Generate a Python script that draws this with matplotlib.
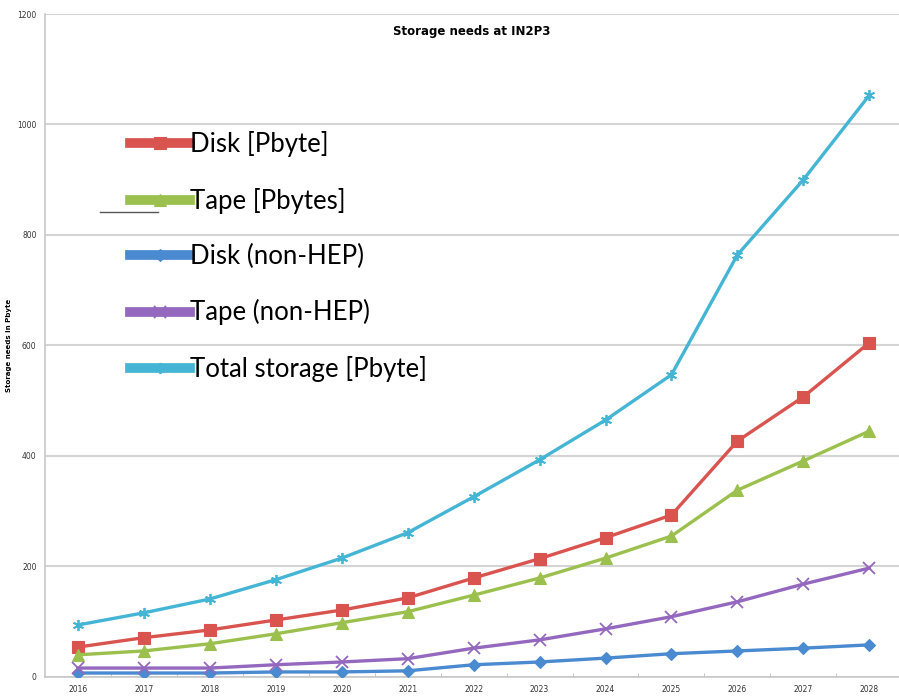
import matplotlib.pyplot as plt
from matplotlib.lines import Line2D
from matplotlib.patches import Rectangle

years = [2016, 2017, 2018, 2019, 2020, 2021, 2022, 2023, 2024, 2025, 2026, 2027, 2028]
disk = [54, 71, 85, 103, 121, 143, 179, 214, 252, 293, 427, 507, 605]
tape = [40, 47, 60, 78, 98, 118, 148, 179, 215, 255, 338, 391, 445]
disk_nonhep = [7, 7, 7, 9, 9, 11, 22, 27, 34, 42, 47, 52, 58]
tape_nonhep = [16, 16, 16, 22, 27, 33, 52, 67, 87, 109, 136, 168, 197]
total = [94, 116, 141, 176, 215, 261, 326, 393, 465, 547, 764, 900, 1053]

series = [
    ('Disk [Pbyte]', disk, '#D9534F', 's', 8),
    ('Tape [Pbytes]', tape, '#9BC04E', '^', 8),
    ('Disk (non-HEP)', disk_nonhep, '#4A8AD0', 'D', 6),
    ('Tape (non-HEP)', tape_nonhep, '#9468BE', 'x', 8),
    ('Total storage [Pbyte]', total, '#45B5D5', (6, 2, 0), 8),
]

fig = plt.figure(figsize=(8.99, 7.0), dpi=100)
ax = fig.add_axes([0.050, 0.033, 0.95, 0.947])

for label, vals, color, marker, ms in series:
    ax.plot(years, vals, color=color, linewidth=2.4, marker=marker, markersize=ms,
            markeredgewidth=1.3 if marker in ('x', (6, 2, 0)) else 0.8,
            markeredgecolor=color, label=label, zorder=3)

ax.set_xlim(2015.5, 2028.45)
ax.set_ylim(0, 1200)
ax.set_yticks(range(0, 1201, 200))
ax.set_xticks(years)
ax.set_xticks([y + 0.5 for y in years[:-1]], minor=True)
ax.tick_params(axis='both', which='major', labelsize=5.5, length=0, colors='#333333', pad=6)
ax.tick_params(axis='x', which='minor', length=3, direction='in', color='#bbbbbb')
ax.grid(axis='y', color='#d4d4d4', linewidth=1.5, zorder=0)
for s in ['top', 'right']:
    ax.spines[s].set_visible(False)
for s in ['left', 'bottom']:
    ax.spines[s].set_color('#c8c8c8')
    ax.spines[s].set_linewidth(1.2)

ax.set_ylabel('Storage needs in Pbyte', fontsize=5, fontweight='bold', labelpad=4)
ax.set_title('Storage needs at IN2P3', fontsize=8.5, fontweight='bold', y=0.955)

# white box behind the legend, hiding the grid lines
ax.add_patch(Rectangle((0.062, 0.43), 0.426, 0.425, transform=ax.transAxes,
                       facecolor='white', edgecolor='none', zorder=1))

leg = ax.legend(loc='upper left', bbox_to_anchor=(0.0995, 0.823), frameon=False,
                prop={'family': 'Lato', 'size': 18.5}, handlelength=2.35,
                handletextpad=0.0, labelspacing=1.18, borderaxespad=0,
                borderpad=0)
for h in leg.legend_handles:
    h.set_linewidth(7)

# stray short line in the source image
fig.add_artist(Line2D([100 / 899, 158 / 899], [1 - 212 / 700, 1 - 212 / 700],
                      color='#555555', linewidth=1))

plt.savefig('out.png', dpi=100)
